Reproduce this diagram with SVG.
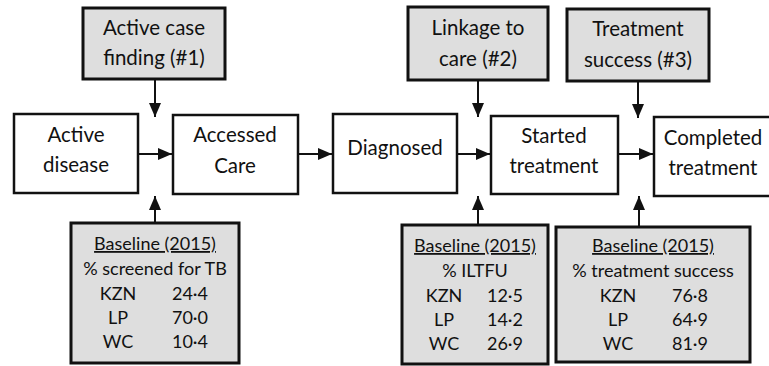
<svg xmlns="http://www.w3.org/2000/svg" width="769" height="366" viewBox="0 0 769 366">
<defs>
<marker id="ah" viewBox="0 0 14 12" refX="14" refY="6" markerWidth="14" markerHeight="12" markerUnits="userSpaceOnUse" orient="auto">
<path d="M0,0 L14,6 L0,12 Z" fill="#111"/>
</marker>
<style>
.main{fill:#fff;stroke:#111;stroke-width:2.5}
.grey{fill:#dedede;stroke:#111;stroke-width:3}
text{font-family:Lato,"Liberation Sans",sans-serif;fill:#111;text-anchor:middle}
.t{font-size:20.5px}
.b{font-size:18px}
.c{stroke:#111;stroke-width:2;fill:none;marker-end:url(#ah)}
</style>
</defs>
<rect width="769" height="366" fill="#fff"/>
<g id="connectors">
<line class="c" x1="155" y1="80" x2="155" y2="117"/>
<line class="c" x1="478" y1="80" x2="478" y2="117"/>
<line class="c" x1="638" y1="81" x2="638" y2="118"/>
<line class="c" x1="139" y1="154" x2="172" y2="154"/>
<line class="c" x1="299" y1="154" x2="332" y2="154"/>
<line class="c" x1="458" y1="154" x2="490" y2="154"/>
<line class="c" x1="619" y1="154" x2="653" y2="154"/>
<line class="c" x1="155" y1="223" x2="155" y2="196"/>
<line class="c" x1="478" y1="225" x2="478" y2="196"/>
<line class="c" x1="639" y1="227" x2="639" y2="196"/>
</g>
<g id="acf">
<rect class="grey" x="83" y="8" width="142" height="71"/>
<text class="t" x="154" y="35">Active case</text>
<text class="t" x="154" y="65">finding (#1)</text>
</g>
<g id="ltc">
<rect class="grey" x="408" y="7" width="140" height="73"/>
<text class="t" x="478" y="35">Linkage to</text>
<text class="t" x="478" y="66">care (#2)</text>
</g>
<g id="ts">
<rect class="grey" x="567" y="9" width="142" height="72"/>
<text class="t" x="638" y="36">Treatment</text>
<text class="t" x="638" y="67">success (#3)</text>
</g>
<g id="active">
<rect class="main" x="14" y="114" width="124" height="79"/>
<text class="t" x="76" y="142">Active</text>
<text class="t" x="76" y="172">disease</text>
</g>
<g id="accessed">
<rect class="main" x="173" y="115" width="125" height="79"/>
<text class="t" x="235" y="142">Accessed</text>
<text class="t" x="235" y="173">Care</text>
</g>
<g id="diagnosed">
<rect class="main" x="333" y="114" width="124" height="79"/>
<text class="t" x="395" y="155">Diagnosed</text>
</g>
<g id="started">
<rect class="main" x="491" y="116" width="127" height="78"/>
<text class="t" x="554" y="143">Started</text>
<text class="t" x="554" y="173">treatment</text>
</g>
<g id="completed">
<rect class="main" x="654" y="117" width="120" height="79"/>
<text class="t" x="713" y="145">Completed</text>
<text class="t" x="713" y="175">treatment</text>
</g>
<g id="base1">
<rect class="grey" x="71" y="223" width="168" height="140"/>
<text class="b" x="155" y="250" text-decoration="underline">Baseline (2015)</text>
<text class="b" x="155" y="275">% screened for TB</text>
<text class="b" x="118" y="300">KZN</text><text class="b" x="190" y="300">24·4</text>
<text class="b" x="118" y="324">LP</text><text class="b" x="190" y="324">70·0</text>
<text class="b" x="118" y="348">WC</text><text class="b" x="190" y="348">10·4</text>
</g>
<g id="base2">
<rect class="grey" x="402" y="225" width="146" height="139"/>
<text class="b" x="475" y="252" text-decoration="underline">Baseline (2015)</text>
<text class="b" x="475" y="277">% ILTFU</text>
<text class="b" x="444" y="302">KZN</text><text class="b" x="505" y="302">12·5</text>
<text class="b" x="444" y="326">LP</text><text class="b" x="505" y="326">14·2</text>
<text class="b" x="444" y="350">WC</text><text class="b" x="505" y="350">26·9</text>
</g>
<g id="base3">
<rect class="grey" x="556" y="227" width="194" height="135"/>
<text class="b" x="653" y="252" text-decoration="underline">Baseline (2015)</text>
<text class="b" x="653" y="277">% treatment success</text>
<text class="b" x="618" y="302">KZN</text><text class="b" x="690" y="302">76·8</text>
<text class="b" x="618" y="326">LP</text><text class="b" x="690" y="326">64·9</text>
<text class="b" x="618" y="350">WC</text><text class="b" x="690" y="350">81·9</text>
</g>
</svg>
